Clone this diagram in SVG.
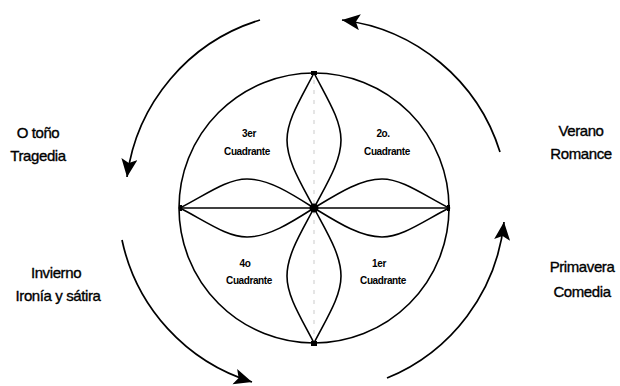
<svg xmlns="http://www.w3.org/2000/svg" width="620" height="386" viewBox="0 0 620 386">
<style>
.lbl{font-family:"Liberation Sans",Arial,sans-serif;font-size:15px;fill:#000;stroke:#000;stroke-width:0.35;text-anchor:middle;letter-spacing:-0.4px}
.q{font-family:"Liberation Sans",Arial,sans-serif;font-size:10px;font-weight:bold;fill:#000;text-anchor:middle;letter-spacing:-0.4px}
.ln{fill:none;stroke:#000;stroke-width:1.6}
.arc{fill:none;stroke:#000;stroke-width:1.7;marker-end:url(#ah)}
</style>
<defs>
<marker id="ah" markerUnits="userSpaceOnUse" markerWidth="22" markerHeight="18" refX="18" refY="8" orient="auto">
<path d="M0,0 L18,8 L0,16 L4,8 Z" fill="#000"/>
</marker>
</defs>
<rect width="620" height="386" fill="#fff"/>
<g id="wheel">
<circle class="ln" cx="314" cy="208" r="135"/>
<line x1="314" y1="80" x2="314" y2="336" stroke="#aaa" stroke-width="0.6" stroke-dasharray="4 6"/>
<line class="ln" x1="180" y1="208" x2="449" y2="208"/>
<path class="ln" d="M314,73 C300,100 287,120 287,140 C287,162 302,185 314,208 C326,185 341,162 341,140 C341,120 328,100 314,73 Z"/>
<path class="ln" d="M314,343 C300,316 287,296 287,276 C287,254 302,231 314,208 C326,231 341,254 341,276 C341,296 328,316 314,343 Z"/>
<path class="ln" d="M180,208 C207,194 227,179 247,179 C269,179 292,194 314,208 C292,222 269,237 247,237 C227,237 207,222 180,208 Z"/>
<path class="ln" d="M449,208 C422,194 402,179 382,179 C360,179 337,194 314,208 C337,222 360,237 382,237 C402,237 422,222 449,208 Z"/>
<circle cx="314" cy="208" r="4.5" fill="#000"/>
<rect x="311" y="71" width="6" height="4" fill="#000"/>
<rect x="311" y="341" width="6" height="5" fill="#000"/>
<rect x="179" y="205" width="3" height="6" fill="#000"/>
<rect x="447" y="205" width="3" height="6" fill="#000"/>
</g>
<g id="q3"><text class="q" x="249" y="137">3er</text><text class="q" x="247" y="155">Cuadrante</text></g>
<g id="q2"><text class="q" x="383" y="137">2o.</text><text class="q" x="387" y="155">Cuadrante</text></g>
<g id="q4"><text class="q" x="245" y="267">4o</text><text class="q" x="249" y="284">Cuadrante</text></g>
<g id="q1"><text class="q" x="379" y="267">1er</text><text class="q" x="383" y="284">Cuadrante</text></g>
<g id="otono"><text class="lbl" x="38" y="138">O toño</text><text class="lbl" x="38" y="161">Tragedia</text></g>
<g id="invierno"><text class="lbl" x="56" y="278">Invierno</text><text class="lbl" x="58" y="301">Ironía y sátira</text></g>
<g id="verano"><text class="lbl" x="581" y="136">Verano</text><text class="lbl" x="581" y="159">Romance</text></g>
<g id="primavera"><text class="lbl" x="582" y="272">Primavera</text><text class="lbl" x="582" y="297">Comedia</text></g>
<g id="connectors">
<path class="arc" d="M260,20 A190,190 0 0 0 127,177"/>
<path class="arc" d="M500,152 A190,190 0 0 0 342,20"/>
<path class="arc" d="M387,378 A190,190 0 0 0 504,222"/>
<path class="arc" d="M122,240 A190,190 0 0 0 252,382"/>
</g>
</svg>
